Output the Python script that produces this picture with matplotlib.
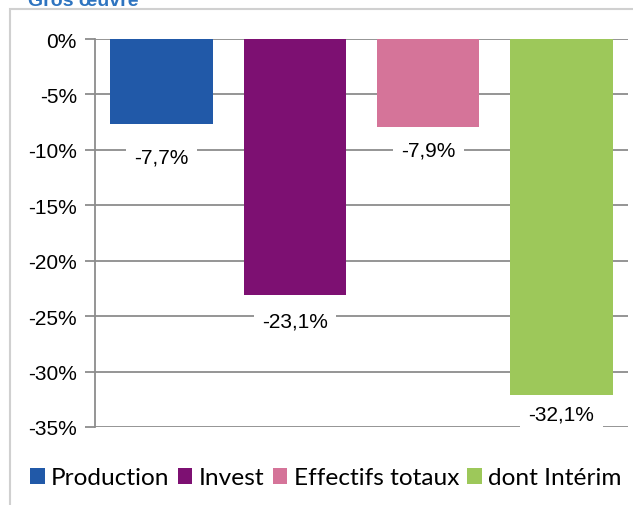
import matplotlib
matplotlib.use("Agg")
import matplotlib.pyplot as plt
from matplotlib.patches import Rectangle

categories = ["Production", "Invest", "Effectifs totaux", "dont Intérim"]
values = [-7.7, -23.1, -7.9, -32.1]
labels = ["-7,7%", "-23,1%", "-7,9%", "-32,1%"]
colors = ["#2159A8", "#7D1072", "#D57499", "#9DC85A"]
label_offsets = [-33, -26, -23, -19]  # pixels below bar end
yticks = [0, -5, -10, -15, -20, -25, -30, -35]
ytick_labels = ["0%", "-5%", "-10%", "-15%", "-20%", "-25%", "-30%", "-35%"]

W, H = 633, 506
fig = plt.figure(figsize=(W / 100, H / 100), dpi=100)

# outer frame
fig.add_artist(Rectangle((10 / W, -0.1), 1.2, (H - 10) / H + 0.1, transform=fig.transFigure,
                         fill=False, edgecolor="#d0d0d0", linewidth=1.5))
fig.text(28 / W, 1 - 2 / H, "Gros œuvre", color="#2E74C0", fontsize=14, fontweight="bold",
         family=["Liberation Sans", "DejaVu Sans"], ha="left", va="center")

ax = fig.add_axes([95 / W, 1 - 428 / H, (628 - 95) / W, (428 - 40) / H])
x = list(range(len(categories)))
ax.bar(x, values, width=0.77, color=colors, zorder=2)
ax.set_xlim(-0.5, len(categories) - 0.5)
ax.set_ylim(-35, 0)
ax.set_yticks(yticks)
ax.set_yticklabels(ytick_labels, family=["Liberation Sans", "DejaVu Sans"], fontsize=15)
ax.yaxis.grid(True, color="#8c8c8c", linewidth=1.3, zorder=0)
ax.set_xticks([])
for s in ["top", "right", "bottom"]:
    ax.spines[s].set_visible(False)
ax.spines["left"].set_color("#8c8c8c")
ax.spines["left"].set_linewidth(1.3)
ax.tick_params(axis="y", length=7, width=1.3, color="#8c8c8c", pad=6)

for xi, v, lab, off in zip(x, values, labels, label_offsets):
    ax.annotate(lab, (xi, v), xytext=(0, off * 72 / 100), textcoords="offset points",
                ha="center", va="center", fontsize=15, family=["Liberation Sans", "DejaVu Sans"],
                bbox=dict(boxstyle="square,pad=0.4", facecolor="white", edgecolor="none"), zorder=3)

handles = [Rectangle((0, 0), 1, 1, facecolor=c, edgecolor="none") for c in colors]
leg = fig.legend(handles, categories, loc="center left", bbox_to_anchor=(30 / W, 1 - 479 / H),
                 ncol=4, frameon=False, handlelength=0.6, handleheight=0.6, handletextpad=0.25,
                 columnspacing=0.35, borderaxespad=0, borderpad=0,
                 prop={"family": ["Lato", "DejaVu Sans"], "size": 17.6})

fig.savefig("out.png", dpi=100)
